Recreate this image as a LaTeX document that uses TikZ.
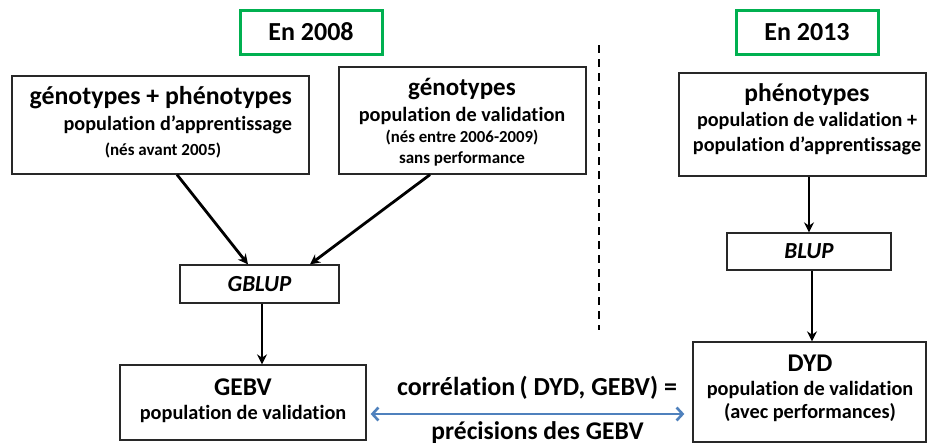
\documentclass[tikz,border=0pt]{standalone}
\usepackage{fontspec}
\setmainfont{Carlito}[Ligatures=NoCommon]
\usetikzlibrary{arrows.meta}
\definecolor{boxgreen}{RGB}{0,176,80}
\definecolor{arrblue}{RGB}{79,129,189}
\definecolor{boxgray}{RGB}{40,40,40}
\tikzset{
  box/.style={draw=boxgray, line width=1.3pt, inner sep=0pt, fill=white},
  yearbox/.style={draw=boxgreen, line width=3pt, inner sep=0pt},
  arr/.style={line width=2.8pt, -{Stealth[length=10pt,width=10pt]}},
  barr/.style={draw=arrblue, line width=2.6pt, {Straight Barb[length=6pt,width=13pt]}-{Straight Barb[length=6pt,width=13pt]}},
  txt/.style={inner sep=0pt, font=\bfseries},
}
\newcommand{\fs}[1]{\fontsize{#1}{#1}\selectfont}
\begin{document}
\begin{tikzpicture}[x=1pt,y=-1pt]
\useasboundingbox (0,0) rectangle (927,445);
% year boxes
\node[yearbox, minimum width=142pt, minimum height=44pt] (Y1) at (311,32) {};
\node[txt] (Y1t) at (311,32) {\fs{26}En 2008};
\node[yearbox, minimum width=142pt, minimum height=44pt] (Y2) at (807,32) {};
\node[txt] (Y2t) at (807,32) {\fs{26}En 2013};
% dashed separator
\coordinate (D1) at (599,45);
\coordinate (D2) at (599,330);
\draw[line width=2pt, dash pattern=on 8pt off 6pt] (D1) -- (D2);
% box A
\node[box, minimum width=297pt, minimum height=98pt] (A) at (160.5,125) {};
\node[txt, anchor=east] (A1) at (292,98) {\fs{25.8}génotypes + phénotypes};
\node[txt, anchor=east] (A2) at (292,125) {\fs{20.2}population d’apprentissage};
\node[txt] (A3) at (163,150) {\fs{17}(nés avant 2005)};
% box B
\node[box, minimum width=247pt, minimum height=107pt] (B) at (462.5,120.5) {};
\node[txt] (B1) at (462,89) {\fs{25}génotypes};
\node[txt] (B2) at (462,116) {\fs{20.3}population de validation};
\node[txt] (B3) at (462,138) {\fs{16.8}(nés entre 2006-2009)};
\node[txt] (B4) at (462,159) {\fs{17}sans performance};
% box C
\node[box, minimum width=247pt, minimum height=103pt] (C) at (802.5,124.5) {};
\node[txt] (C1) at (807,95) {\fs{25.5}phénotypes};
\node[txt] (C2) at (807,121) {\fs{20.2}population de validation +};
\node[txt] (C3) at (807,146) {\fs{20.2}population d’apprentissage};
% GBLUP
\node[box, minimum width=159pt, minimum height=38pt] (GB) at (259.5,284) {};
\node[txt] (GBt) at (259.5,284) {\fs{23}\itshape GBLUP};
% BLUP
\node[box, minimum width=164pt, minimum height=37pt] (BL) at (809,251.5) {};
\node[txt] (BLt) at (809,251.5) {\fs{23}\itshape BLUP};
% GEBV
\node[box, minimum width=246pt, minimum height=75pt] (GE) at (243,402.5) {};
\node[txt] (GE1) at (243,387) {\fs{25.5}GEBV};
\node[txt] (GE2) at (243,414) {\fs{20.3}population de validation};
% DYD
\node[box, minimum width=233pt, minimum height=100pt] (DY) at (809.5,392) {};
\node[txt] (DY1) at (810,363) {\fs{25.5}DYD};
\node[txt] (DY2) at (810,390) {\fs{20.3}population de validation};
\node[txt] (DY3) at (810,413) {\fs{20.3}(avec performances)};
% correlation text
\node[txt] (R1) at (537,388) {\fs{26}corrélation\,( DYD, GEBV) =};
\node[txt] (R2) at (537.5,433) {\fs{25.5}précisions des GEBV};
% arrows
\draw[arr] ([xshift=16.5pt]A.south) -- ([xshift=-11.5pt]GB.north);
\draw[arr] ([xshift=-32.5pt]B.south) -- ([xshift=50.5pt]GB.north);
\draw[arr] ([xshift=2.5pt]GB.south) -- ([xshift=2.5pt]GB.south |- GE.north);
\draw[arr] (BL.north |- C.south) -- (BL.north);
\draw[arr] ([xshift=3pt]BL.south) -- ([xshift=3pt]BL.south |- DY.north);
\coordinate (BA) at ([xshift=4pt,yshift=-11.5pt]GE.east);
\coordinate (BB) at ([xshift=-8pt]DY.west);
\draw[barr] (BA) -- (BB |- BA);
\end{tikzpicture}
\end{document}
